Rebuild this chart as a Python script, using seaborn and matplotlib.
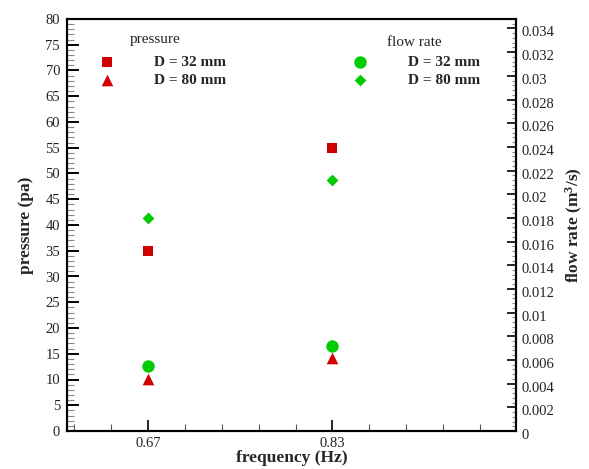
import numpy as np
import pandas as pd
import matplotlib
matplotlib.use("Agg")
import matplotlib.pyplot as plt
import matplotlib.transforms as mtransforms
import seaborn as sns
from matplotlib.ticker import MultipleLocator, FixedLocator

# ---- data ----
frequency = [0.67, 0.83]
pressure_32 = [35.0, 55.0]
pressure_80 = [10.1, 14.2]
flow_32 = [0.0055, 0.0072]
flow_80 = [0.0180, 0.0212]
series_labels = ["D = 32 mm", "D = 80 mm"]
x_ticks = [0.67, 0.83]
flow_ticks = [0, 0.002, 0.004, 0.006, 0.008, 0.01, 0.012, 0.014, 0.016, 0.018,
              0.02, 0.022, 0.024, 0.026, 0.028, 0.03, 0.032, 0.034]

sns.set_style("ticks")
plt.rcParams['font.family'] = ['Liberation Serif', 'DejaVu Serif']
plt.rcParams['mathtext.fontset'] = 'custom'
plt.rcParams['mathtext.rm'] = 'Liberation Serif'
plt.rcParams['mathtext.bf'] = 'Liberation Serif:bold'
plt.rcParams['mathtext.default'] = 'bf'

RED = '#D00000'
GREEN = '#00CC00'

fig = plt.figure(figsize=(5.89, 4.69), dpi=100)
W, H = 589, 469
L, R, T, B = 67, 516, 19, 431
ax = fig.add_axes([L / W, 1 - B / H, (R - L) / W, (B - T) / H])
ax2 = ax.twinx()

df = pd.DataFrame({"frequency": frequency, "p32": pressure_32, "p80": pressure_80,
                   "q32": flow_32, "q80": flow_80})

sns.scatterplot(data=df, x="frequency", y="p32", marker="s", s=55, color=RED,
                linewidth=0, ax=ax, label=series_labels[0], legend=False, zorder=3)
sns.scatterplot(data=df, x="frequency", y="p80", marker="^", s=70, color=RED,
                linewidth=0, ax=ax, label=series_labels[1], legend=False, zorder=3)
sns.scatterplot(data=df, x="frequency", y="q32", marker="o", s=80, color=GREEN,
                linewidth=0, ax=ax2, label=series_labels[0], legend=False, zorder=3)
sns.scatterplot(data=df, x="frequency", y="q80", marker="D", s=36, color=GREEN,
                linewidth=0, ax=ax2, label=series_labels[1], legend=False, zorder=3)

ax.set_xlim(0.6, 0.989)
ax.set_ylim(0, 80)
ax2.set_ylim(0, 0.0348)

# ticks
ax.xaxis.set_major_locator(FixedLocator(x_ticks))
ax.xaxis.set_minor_locator(FixedLocator([0.67 + 0.032 * k for k in range(-2, 10)]))
ax.set_xticklabels([f"{v:g}" for v in x_ticks])
ax.yaxis.set_major_locator(MultipleLocator(5))
ax.yaxis.set_minor_locator(MultipleLocator(1))
ax2.set_yticks(flow_ticks)
ax2.set_yticklabels([f"{v:g}" for v in flow_ticks])
ax2.yaxis.set_minor_locator(MultipleLocator(0.0004))

ax.tick_params(axis='y', which='major', direction='in', length=8.6, width=1.4,
               labelsize=10.5, pad=5, right=False, colors='black')
ax.tick_params(axis='y', which='minor', direction='in', length=4.7, width=0.8,
               color='#888888', right=False)
ax.tick_params(axis='x', which='major', direction='in', length=7.7, width=1.4,
               labelsize=10.5, pad=4, top=False)
ax.tick_params(axis='x', which='minor', direction='in', length=4.8, width=0.8,
               color='#555555', top=False)
ax2.tick_params(axis='y', which='major', direction='in', length=6.5, width=1.4,
                labelsize=10.5, pad=4)
ax2.tick_params(axis='y', which='minor', direction='in', length=3.0, width=0.8,
                color='#888888')
for a in (ax, ax2):
    for sp in a.spines.values():
        sp.set_linewidth(1.5)
        sp.set_color('black')
        sp.set_visible(True)
for lab in ax.get_xticklabels() + ax.get_yticklabels() + ax2.get_yticklabels():
    lab.set_color('#222222')
# right-axis labels sit slightly below their ticks in the reference
shift = mtransforms.ScaledTranslation(0, -3 / 100, fig.dpi_scale_trans)
for lab in ax2.get_yticklabels():
    lab.set_transform(lab.get_transform() + shift)

ax.set_xlabel("frequency (Hz)", fontsize=12.5, fontweight='bold', labelpad=0)
ax.set_ylabel("pressure (pa)", fontsize=12.5, fontweight='bold')
ax2.set_ylabel(r"flow rate (m$^3$/s)", fontsize=12.5, fontweight='bold')
ax.yaxis.set_label_coords((34 - L) / (R - L), 0.5)
ax2.yaxis.set_label_coords((564 - L) / (R - L), 0.5)

# legends
h1, l1 = ax.get_legend_handles_labels()
h2, l2 = ax2.get_legend_handles_labels()
leg_kw = dict(frameon=False, loc='upper left', borderaxespad=0, borderpad=0,
              handlelength=1.0, handletextpad=2.6, labelspacing=0.25,
              prop={'weight': 'bold', 'size': 11}, bbox_transform=fig.transFigure)
leg1 = ax.legend(h1, l1, bbox_to_anchor=(99.5 / W, 1 - 55.5 / H), **leg_kw)
leg2 = ax2.legend(h2, l2, bbox_to_anchor=(352.5 / W, 1 - 55.5 / H), **leg_kw)
fig.text(130 / W, 1 - 40 / H, "pressure", fontsize=11, va='center', ha='left', color='#222222')
fig.text(387 / W, 1 - 42 / H, "flow rate", fontsize=11, va='center', ha='left', color='#222222')

fig.savefig("out.png", dpi=100)
